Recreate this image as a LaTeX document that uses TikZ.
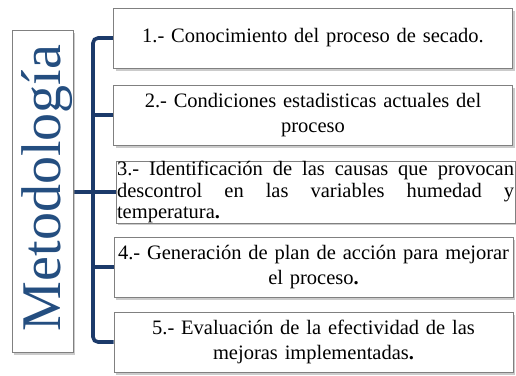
\documentclass[tikz,border=0pt]{standalone}
\usepackage{fontspec}
\setmainfont{Liberation Serif}
\usetikzlibrary{shadows,backgrounds}
\definecolor{metblue}{RGB}{36,78,128}
\definecolor{linkblue}{RGB}{28,58,106}
\definecolor{boxgray}{RGB}{128,128,128}
\tikzset{
  boxshadow/.style={drop shadow={shadow xshift=2pt, shadow yshift=-2.5pt, fill=black!45, opacity=0.45}},
  stepbox/.style={draw=boxgray, fill=white, line width=0.8pt, boxshadow,
    minimum width=399pt, minimum height=60pt, text width=397pt, inner xsep=1pt, inner ysep=3pt,
    align=center, font=\fontsize{20.5}{24.5}\selectfont},
  metbox/.style={draw=boxgray, fill=white, line width=0.8pt, boxshadow,
    minimum width=61pt, minimum height=322pt, inner sep=0pt},
  link/.style={draw=linkblue, line width=3.6pt}
}
\begin{document}
\begin{tikzpicture}[x=1pt, y=-1pt]
   \useasboundingbox (0,0) rectangle (516,375);
   % Left box
   \node[metbox] (met) at (42.5,191) {};
   \node[rotate=90, anchor=base, text=metblue, font=\fontsize{56}{60}\selectfont] (metlabel) at (60,188) {Metodología};

   % Steps
   \node[stepbox] (s1) at (313,38) {1.- Conocimiento del proceso de secado.};
   \node[stepbox] (s2) at (313,115) {2.- Condiciones estadisticas actuales del\\ proceso};
   \node[stepbox, align=justify, inner ysep=0pt, font=\fontsize{20.5}{21.5}\selectfont] (s3) at (315.5,192)
      {3.- Identificación de las causas que provocan\linebreak descontrol en las variables humedad y\linebreak temperatura\textbf{.}};
   \node[stepbox] (s4) at (313.5,267) {4.- Generación de plan de acción para mejorar\\ el proceso\textbf{.}};
   \node[stepbox] (s5) at (313.5,342) {5.- Evaluación de la efectividad de las\\ mejoras implementadas\textbf{.}};

   % Connectors
   \coordinate (trunk) at (93,192);
   \begin{scope}[on background layer]
      \draw[link, rounded corners=5pt] (s1.west) -| (trunk) |- (s5.west);
      \draw[link] (s3.west -| met.east) -- (s3.west);
      \draw[link] (s2.west -| trunk) -- (s2.west);
      \draw[link] (s4.west -| trunk) -- (s4.west);
   \end{scope}
\end{tikzpicture}
\end{document}
